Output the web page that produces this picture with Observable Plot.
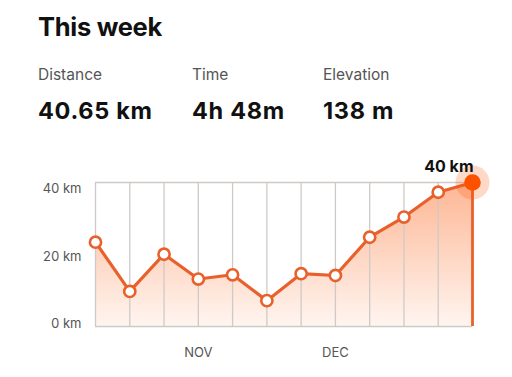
<!DOCTYPE html>
<html>
<head>
<meta charset="utf-8">
<script src="https://cdn.jsdelivr.net/npm/d3@7"></script>
<script src="https://cdn.jsdelivr.net/npm/@observablehq/plot@0.6"></script>
<style>
  html, body { margin: 0; padding: 0; background: #fff; width: 512px; height: 377px; overflow: hidden; }
  body { font-family: Inter, "Noto Sans", sans-serif; position: relative; }
  .title { position: absolute; left: 38px; top: 11px; font-size: 25.5px; font-weight: 700; color: #111; letter-spacing: -0.3px; line-height: 31px; }
  .stat { position: absolute; top: 65px; }
  .stat .lab { font-size: 15.5px; color: #555; font-weight: 400; line-height: 20px; }
  .stat .val { font-size: 23.5px; font-weight: 700; color: #111; margin-top: 12px; letter-spacing: 0.7px; line-height: 28px; }
  #chart { position: absolute; left: 0; top: 150px; }
</style>
</head>
<body>
<div class="title">This week</div>
<div id="stats"></div>
<div id="chart"></div>
<script>
const statLabels = ["Distance", "Time", "Elevation"];
const statValues = ["40.65 km", "4h 48m", "138 m"];
const statLefts = [38, 192, 323];

const weekIndex = [0, 1, 2, 3, 4, 5, 6, 7, 8, 9, 10, 11];
const weekLabels = ["", "", "", "NOV", "", "", "", "DEC", "", "", "", ""];
const distanceKm = [23.8, 9.9, 20.4, 13.4, 14.6, 7.3, 14.9, 14.4, 25.2, 30.9, 37.9, 40.65];
const yTicks = [0, 20, 40];

const stats = document.getElementById("stats");
statLabels.forEach((l, i) => {
  const d = document.createElement("div");
  d.className = "stat";
  d.style.left = statLefts[i] + "px";
  d.innerHTML = `<div class="lab">${l}</div><div class="val">${statValues[i]}</div>`;
  stats.appendChild(d);
});

const data = weekIndex.map((w, i) => ({w, km: distanceKm[i], label: weekLabels[i]}));
const last = data[data.length - 1];
const orange = "#e8612c";
const strong = "#fc5200";

const defs = () => {
  const g = d3.create("svg:defs");
  const lg = g.append("linearGradient").attr("id", "areaGrad").attr("x1", 0).attr("y1", 0).attr("x2", 0).attr("y2", 1);
  lg.append("stop").attr("offset", "0%").attr("stop-color", strong).attr("stop-opacity", 0.42);
  lg.append("stop").attr("offset", "100%").attr("stop-color", strong).attr("stop-opacity", 0.06);
  return g.node();
};

const tickStyle = {anchor: "left", tickSize: 0, tickPadding: 14, tickFormat: d => `${d} km`, fontSize: 13, color: "#555", label: null};

const chart = Plot.plot({
  width: 512,
  height: 220,
  marginLeft: 95,
  marginRight: 40,
  marginTop: 32,
  marginBottom: 44,
  style: {fontFamily: "Inter, 'Noto Sans', sans-serif", background: "transparent", overflow: "visible"},
  x: {domain: [0, 11], axis: null},
  y: {domain: [0, 40.65], axis: null},
  marks: [
    defs,
    Plot.areaY(data, {x: "w", y: "km", fill: "url(#areaGrad)"}),
    Plot.ruleX(weekIndex.slice(0, 11), {stroke: "#cfcac6", strokeWidth: 1.3}),
    Plot.ruleY([40.65], {stroke: "#cfcac6", strokeWidth: 1.3}),
    Plot.ruleY([0], {stroke: "#cfcac6", strokeWidth: 1.3}),
    Plot.ruleX([last], {x: "w", y1: 0, y2: "km", stroke: orange, strokeWidth: 2.8}),
    Plot.line(data, {x: "w", y: "km", stroke: orange, strokeWidth: 3.2}),
    Plot.dot(data.slice(0, 11), {x: "w", y: "km", r: 5.6, fill: "white", stroke: orange, strokeWidth: 2.6}),
    Plot.dot([last], {x: "w", y: "km", r: 17, fill: strong, fillOpacity: 0.22}),
    Plot.dot([last], {x: "w", y: "km", r: 8.3, fill: strong}),
    Plot.text([last], {x: "w", y: "km", text: d => `${Math.floor(d.km)} km`, textAnchor: "end", dx: 1, dy: -16, fontSize: 16, fontWeight: 700, fill: "#111"}),
    Plot.axisY([yTicks[2]], {...tickStyle, dy: 4}),
    Plot.axisY([yTicks[1]], {...tickStyle, dy: 1}),
    Plot.axisY([yTicks[0]], {...tickStyle, dy: -3}),
    Plot.axisX([3, 7], {anchor: "bottom", tickSize: 0, tickPadding: 21, tickFormat: d => weekLabels[d], fontSize: 13, color: "#555", label: null})
  ]
});
document.getElementById("chart").appendChild(chart);
</script>
</body>
</html>
